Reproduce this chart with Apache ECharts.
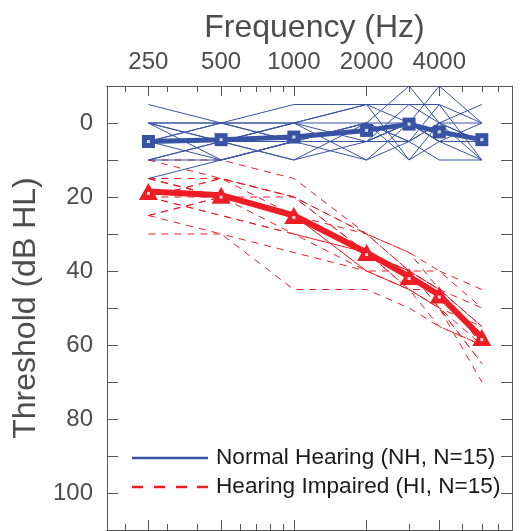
<!DOCTYPE html>
<html>
<head>
<meta charset="utf-8">
<script src="https://cdn.jsdelivr.net/npm/echarts@6/dist/echarts.min.js"></script>
<style>
html, body { margin: 0; padding: 0; background: #fff; }
#chart { width: 522px; height: 531px; }
</style>
</head>
<body>
<div id="chart"></div>
<script>
// audiometric frequencies (Hz)
var freqs = [250, 500, 1000, 2000, 3000, 4000, 6000];
var labelFreqs = [250, 500, 1000, 2000, 4000];
var minorFreqs = [200, 300, 400, 600, 700, 800, 900, 3000, 5000, 6000, 7000, 8000];
var yTicks = [-10, 0, 10, 20, 30, 40, 50, 60, 70, 80, 90, 100, 110];

// group means (dB HL)
var nhMean = [5, 4.5, 3.8, 2, 0.3, 2.4, 4.5];
var hiMean = [18.5, 19.5, 25, 35, 41.5, 46.5, 58];

// individual listeners
var nhSubjects = [
    [-5, 0, -5, -5, -5, -5, 0],
    [0, 0, 0, 0, -10, 0, 5],
    [0, 5, 0, -5, 0, -10, 0],
    [5, 0, 5, 5, 0, 5, 10],
    [10, 5, 5, 0, 0, 5, 5],
    [15, 10, 5, 5, 5, 0, 5],
    [0, 10, 5, 10, 5, 10, 10],
    [5, 5, 10, 0, 10, 5, 5],
    [10, 5, 0, 5, -5, 0, -5],
    [5, 10, 5, 0, 5, 0, 10],
    [0, 0, 5, 5, 0, 5, 0],
    [5, 5, 0, 10, 0, 5, 5],
    [10, 10, 5, 0, 5, -5, 10],
    [0, 5, 10, 5, 0, 5, 5],
    [5, 0, 0, -5, 10, 0, 0]
];
var hiSubjects = [
    [10, 10, 15, 30, 35, 40, 50],
    [15, 15, 20, 30, 40, 45, 55],
    [15, 20, 20, 35, 40, 50, 60],
    [20, 20, 25, 35, 45, 50, 65],
    [20, 25, 30, 40, 40, 45, 55],
    [25, 30, 45, 45, 50, 55, 60],
    [30, 30, 35, 40, 45, 45, 60],
    [10, 15, 20, 30, 35, 45, 50],
    [20, 15, 20, 35, 40, 50, 65],
    [15, 20, 25, 40, 45, 50, 70],
    [25, 20, 25, 30, 40, 40, 45],
    [20, 25, 30, 35, 45, 55, 60],
    [15, 20, 25, 35, 40, 45, 55],
    [25, 20, 30, 35, 40, 45, 60],
    [20, 15, 25, 40, 45, 50, 55]
];

var NH = 'Normal Hearing (NH, N=15)';
var HI = 'Hearing Impaired (HI, N=15)';
var blue = '#3953a4';
var red = '#ee1d25';
var axisColor = '#555';
var textColor = '#4d4d4d';

// frequency axis drawn in octaves re 250 Hz (log scale)
var oct = function (f) { return Math.log(f / 250) / Math.LN2; };
var xMin = oct(168.5);
var xMax = oct(8000);

var toPoints = function (vals) {
    var res = [];
    for (var i = 0; i < freqs.length; i++) {
        res.push([oct(freqs[i]), vals[i]]);
    }
    return res;
};

var xAxisDef = function (pos, tickFreqs, len, withLabels) {
    return {
        type: 'value',
        position: pos,
        min: xMin,
        max: xMax,
        name: withLabels ? 'Frequency (Hz)' : '',
        nameLocation: 'middle',
        nameGap: 42,
        nameTextStyle: { fontSize: 32, color: textColor, fontFamily: 'Liberation Sans', padding: [0, 0, 0, 10] },
        axisLine: { show: true, onZero: false, lineStyle: { color: axisColor, width: 1 } },
        axisTick: {
            show: true, inside: true, length: len,
            customValues: tickFreqs.map(oct),
            lineStyle: { color: axisColor, width: 1 }
        },
        axisLabel: {
            show: withLabels,
            customValues: tickFreqs.map(oct),
            margin: 12,
            fontSize: 24,
            color: textColor,
            fontFamily: 'Liberation Sans',
            formatter: function (v) { return String(Math.round(250 * Math.pow(2, v))); }
        },
        splitLine: { show: false }
    };
};

var yAxisDef = function (pos, withLabels) {
    return {
        type: 'value',
        position: pos,
        inverse: true,
        min: -10,
        max: 110,
        interval: 10,
        name: withLabels ? 'Threshold (dB HL)' : '',
        nameLocation: 'middle',
        nameRotate: 90,
        nameGap: 63,
        nameTextStyle: { fontSize: 32, color: textColor, fontFamily: 'Liberation Sans' },
        axisLine: { show: true, onZero: false, lineStyle: { color: axisColor, width: 1 } },
        axisTick: { show: true, inside: true, length: 11, customValues: yTicks, lineStyle: { color: axisColor } },
        axisLabel: {
            show: withLabels,
            margin: 14,
            fontSize: 24,
            color: textColor,
            fontFamily: 'Liberation Sans',
            formatter: function (v) { return (v % 20 === 0 && v >= 0 && v <= 100) ? String(v) : ''; }
        },
        splitLine: { show: false }
    };
};

var series = [];
hiSubjects.forEach(function (s) {
    series.push({
        name: HI, type: 'line', data: toPoints(s), symbol: 'none', silent: true, z: 2,
        lineStyle: { color: red, width: 1, type: [7, 6] }, itemStyle: { color: red }
    });
});
nhSubjects.forEach(function (s) {
    series.push({
        name: NH, type: 'line', data: toPoints(s), symbol: 'none', silent: true, z: 3,
        lineStyle: { color: blue, width: 1 }, itemStyle: { color: blue }
    });
});
series.push({
    name: 'NH mean', type: 'line', data: toPoints(nhMean), z: 5,
    symbol: 'rect', symbolSize: 13,
    lineStyle: { color: blue, width: 5 }, itemStyle: { color: blue }
});
series.push({
    name: 'NH mean dot', type: 'scatter', data: toPoints(nhMean), z: 6,
    symbol: 'rect', symbolSize: 3, itemStyle: { color: '#fff' }
});
series.push({
    name: 'HI mean', type: 'line', data: toPoints(hiMean), z: 5,
    symbol: 'triangle', symbolSize: [19, 17],
    lineStyle: { color: red, width: 6 }, itemStyle: { color: red }
});
series.push({
    name: 'HI mean dot', type: 'scatter', data: toPoints(hiMean), z: 6,
    symbol: 'rect', symbolSize: 3, symbolOffset: [0, 2], itemStyle: { color: '#fff' }
});

var myChart = echarts.init(document.getElementById('chart'));
var option = {
    backgroundColor: '#fff',
    animation: false,
    grid: { left: 107, right: 10, top: 86, bottom: 1 },
    xAxis: [
        xAxisDef('top', labelFreqs, 10, true),
        xAxisDef('top', minorFreqs, 6, false),
        xAxisDef('bottom', labelFreqs, 10, false),
        xAxisDef('bottom', minorFreqs, 6, false)
    ],
    yAxis: [
        yAxisDef('left', true),
        yAxisDef('right', false)
    ],
    legend: {
        orient: 'vertical',
        left: 132,
        top: 446,
        padding: 0,
        itemWidth: 76,
        itemHeight: 2.5,
        itemGap: 5,
        textStyle: { fontSize: 22.6, lineHeight: 24, color: '#1a1a1a', fontFamily: 'Liberation Sans', padding: [0, 0, 0, 3] },
        data: [
            { name: NH, icon: 'path://M0,0H76V2.5H0Z' },
            { name: HI, icon: 'path://M0,0H11V2.5H0Z M22,0H33V2.5H22Z M44,0H55V2.5H44Z M65,0H76V2.5H65Z' }
        ]
    },
    series: series
};
myChart.setOption(option);
</script>
</body>
</html>
